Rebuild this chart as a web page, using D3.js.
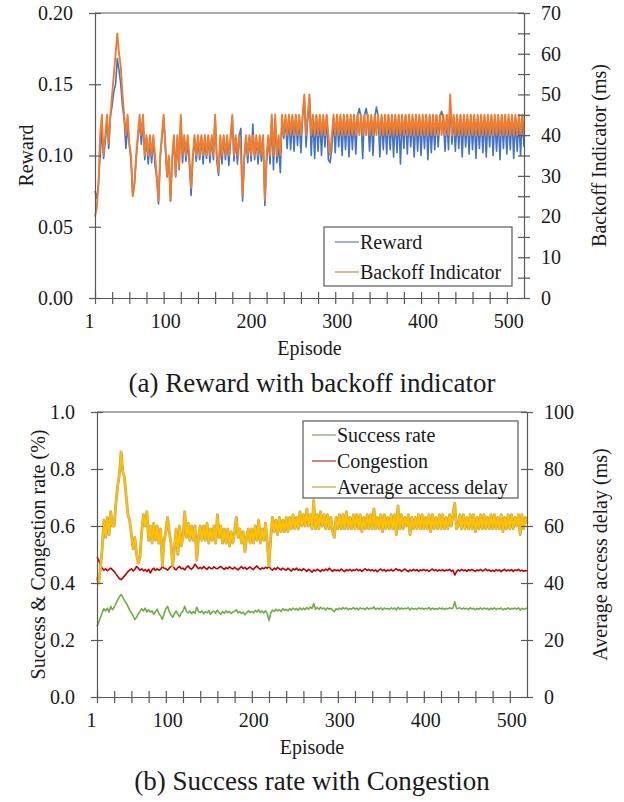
<!DOCTYPE html>
<html>
<head>
<meta charset="utf-8">
<script src="https://cdn.jsdelivr.net/npm/d3@7/dist/d3.min.js"></script>
<style>
  body { margin: 0; background: #fff; }
  svg { display: block; }
</style>
</head>
<body>
<div id="chart"></div>
<script>
// x categories: first plotted point is episode 20, one point every 2 episodes
const episodeStart = 20;
const episodeStep = 2;
const xTickValues = [20, 100, 200, 300, 400, 500];
const xTickLabels = ['1', '100', '200', '300', '400', '500'];

// (a) backoff indicator, ms (right axis)
const backoff = [
  20,22,28,40,45,35,40,45,38,45,
  50,55,60,65,60,57,50,45,40,45,
  38,35,25,28,35,40,45,40,45,35,
  40,35,40,35,40,35,30,24,35,40,
  45,38,30,35,24,35,40,30,40,32,
  45,35,40,35,40,35,27,35,40,35,
  40,35,40,35,40,35,40,35,40,35,
  45,35,31,40,35,40,35,40,35,40,
  45,35,40,35,40,35,25,35,40,35,
  40,35,40,35,40,35,40,35,40,24,
  35,40,35,45,35,45,35,40,35,45,
  40,45,40,45,40,45,40,45,40,45,
  40,45,50,40,45,50,40,45,40,45,
  40,45,40,45,40,45,40,35,40,45,
  40,45,40,45,40,45,40,45,40,45,
  40,45,40,45,40,45,40,45,40,45,
  40,45,40,45,40,45,40,45,40,45,
  40,45,40,45,40,45,40,45,40,45,
  40,45,40,45,40,45,40,45,40,45,
  40,45,40,45,40,45,40,45,40,45,
  40,45,40,45,40,45,40,50,40,45,
  40,45,40,45,40,45,40,45,40,45,
  40,45,40,45,40,45,40,45,40,45,
  40,45,40,45,40,45,40,45,40,45,
  40,45,40,45,40,45,40,45,40,45,
  40
];

// (a) reward (left axis)
const reward = [
  .075,.070,.080,.100,.118,.098,.110,.125,.105,.128,
  .135,.145,.150,.168,.160,.150,.135,.125,.105,.120,
  .108,.096,.072,.080,.098,.112,.124,.108,.125,.097,
  .112,.094,.110,.095,.112,.093,.084,.066,.098,.112,
  .126,.105,.085,.098,.068,.096,.112,.085,.112,.090,
  .126,.095,.112,.096,.110,.094,.072,.097,.112,.096,
  .112,.097,.113,.094,.112,.098,.113,.095,.112,.097,
  .127,.096,.086,.110,.094,.113,.097,.112,.093,.110,
  .126,.096,.112,.094,.114,.119,.068,.097,.112,.095,
  .113,.096,.122,.097,.112,.094,.110,.096,.112,.065,
  .096,.112,.094,.126,.090,.125,.095,.108,.088,.126,
  .112,.124,.105,.127,.104,.126,.103,.128,.107,.126,
  .102,.127,.140,.106,.126,.140,.100,.127,.098,.128,
  .103,.127,.100,.126,.106,.128,.097,.095,.105,.126,
  .102,.128,.106,.126,.100,.127,.104,.128,.099,.126,
  .104,.127,.101,.128,.133,.127,.098,.128,.133,.126,
  .103,.127,.100,.126,.134,.128,.099,.127,.104,.126,
  .101,.128,.104,.126,.099,.127,.102,.128,.094,.126,
  .105,.128,.101,.127,.106,.126,.099,.128,.103,.127,
  .100,.126,.105,.128,.097,.127,.102,.126,.104,.128,
  .106,.127,.131,.126,.103,.128,.104,.138,.108,.127,
  .103,.126,.105,.128,.099,.127,.106,.126,.101,.128,
  .104,.127,.098,.126,.105,.128,.102,.127,.099,.126,
  .106,.128,.100,.127,.103,.126,.097,.128,.105,.127,
  .101,.126,.104,.128,.098,.127,.103,.126,.100,.128,
  .106
];

// (b) average access delay, ms (right axis)
const accessDelay = [
  42,40,45,52,62,56,63,57,65,60,
  60,68,74,78,86,79,77,70,64,62,
  57,52,56,50,47,49,58,64,60,65,
  55,60,54,61,55,60,54,59,46,55,
  58,63,58,54,46,52,59,50,60,53,
  56,65,56,61,55,60,55,60,48,56,
  60,55,60,55,61,54,59,55,60,54,
  64,56,60,54,59,54,59,53,58,54,
  58,63,56,59,54,58,51,56,59,54,
  59,54,60,55,62,54,59,55,61,54,
  46,56,63,58,62,57,63,58,62,58,
  63,58,63,59,64,59,63,59,65,60,
  64,60,66,60,64,59,69,59,64,59,
  65,60,64,59,64,59,63,58,56,63,
  59,64,59,64,59,65,59,63,59,64,
  59,64,59,64,58,63,59,64,59,64,
  59,66,59,63,59,64,58,64,59,63,
  59,64,59,64,57,67,59,64,59,63,
  60,64,57,63,59,63,59,64,59,64,
  59,63,59,64,58,64,59,63,59,64,
  59,64,59,63,59,64,60,64,68,59,
  60,64,59,64,59,63,59,64,59,64,
  58,63,59,64,59,64,59,63,59,64,
  59,64,59,63,59,64,58,63,59,64,
  59,64,59,63,60,64,57,64,59,63,
  61
];

// (b) congestion rate (left axis)
const congestion = [
  .492,.480,.462,.452,.445,.450,.443,.448,.452,.446,
  .440,.432,.424,.415,.412,.418,.425,.432,.440,.445,
  .450,.442,.448,.458,.452,.445,.450,.443,.447,.440,
  .448,.435,.446,.452,.444,.450,.445,.448,.458,.452,
  .450,.445,.452,.458,.462,.450,.446,.454,.458,.450,
  .452,.446,.455,.460,.452,.448,.455,.466,.458,.450,
  .455,.450,.458,.452,.448,.456,.452,.450,.457,.452,
  .450,.455,.458,.452,.448,.454,.450,.457,.452,.449,
  .455,.450,.446,.452,.458,.450,.455,.448,.452,.456,
  .450,.447,.455,.460,.452,.448,.453,.450,.455,.452,
  .458,.450,.445,.452,.447,.455,.450,.446,.452,.448,
  .445,.452,.447,.442,.450,.446,.452,.445,.448,.443,
  .450,.446,.441,.448,.444,.438,.446,.442,.448,.445,
  .440,.447,.443,.449,.444,.452,.446,.441,.447,.443,
  .446,.442,.449,.444,.440,.447,.443,.448,.442,.446,
  .444,.449,.443,.447,.441,.446,.450,.444,.448,.443,
  .447,.442,.446,.440,.445,.449,.443,.447,.441,.446,
  .443,.448,.442,.446,.450,.444,.447,.441,.445,.449,
  .444,.440,.446,.442,.448,.443,.447,.441,.446,.444,
  .448,.443,.446,.441,.445,.449,.443,.447,.442,.446,
  .443,.447,.442,.446,.444,.448,.441,.445,.428,.440,
  .446,.442,.448,.443,.446,.441,.447,.443,.448,.444,
  .441,.446,.443,.448,.442,.445,.449,.443,.446,.441,
  .445,.441,.447,.443,.446,.440,.445,.448,.442,.446,
  .443,.447,.441,.446,.444,.448,.442,.445,.441,.444,
  .442
];

// (b) success rate (left axis)
const successRate = [
  .248,.262,.280,.295,.310,.302,.312,.298,.318,.306,
  .315,.328,.340,.352,.360,.350,.338,.330,.318,.305,
  .295,.285,.272,.280,.292,.300,.310,.302,.312,.298,
  .306,.298,.302,.290,.300,.308,.292,.285,.272,.292,
  .310,.318,.300,.288,.280,.292,.302,.290,.282,.295,
  .302,.318,.300,.295,.302,.292,.300,.294,.315,.300,
  .296,.302,.292,.300,.295,.303,.290,.298,.301,.294,
  .305,.296,.290,.300,.294,.302,.296,.300,.293,.298,
  .301,.306,.295,.300,.293,.298,.288,.296,.302,.297,
  .300,.295,.304,.298,.306,.296,.302,.295,.303,.292,
  .268,.294,.305,.300,.308,.302,.306,.300,.310,.304,
  .308,.302,.310,.305,.312,.306,.310,.304,.313,.306,
  .312,.306,.314,.308,.316,.310,.328,.308,.314,.307,
  .315,.309,.312,.305,.313,.308,.311,.304,.300,.310,
  .306,.312,.307,.314,.309,.313,.306,.311,.308,.314,
  .308,.312,.306,.313,.309,.311,.307,.314,.308,.312,
  .310,.316,.307,.312,.308,.313,.306,.312,.309,.311,
  .307,.313,.309,.312,.305,.315,.308,.312,.309,.311,
  .310,.313,.305,.312,.308,.311,.307,.313,.309,.312,
  .308,.311,.309,.314,.306,.312,.308,.311,.307,.313,
  .309,.312,.307,.311,.309,.313,.310,.312,.334,.310,
  .311,.313,.308,.312,.309,.311,.307,.313,.309,.311,
  .306,.311,.308,.313,.307,.312,.309,.311,.306,.312,
  .308,.313,.307,.311,.309,.312,.306,.310,.308,.313,
  .307,.311,.309,.312,.308,.313,.305,.311,.308,.310,
  .311
];

const colors = {
  text: '#1a1a1a',
  axis: '#595959',
  reward: '#4472C4',
  backoff: '#ED7D31',
  success: '#70AD47',
  congestion: '#C00000',
  delay: '#FFC000'
};
const font = '"Liberation Serif", "Times New Roman", serif';

const svg = d3.select('#chart').append('svg')
  .attr('width', 624)
  .attr('height', 802)
  .style('font-family', font);

const episodeOf = i => episodeStart + i * episodeStep;

function drawPanel(cfg) {
  const g = svg.append('g');
  const x = d3.scaleLinear().domain([20, 520]).range([cfg.left, cfg.right]);
  const yL = d3.scaleLinear().domain(cfg.leftDomain).range([cfg.bottom, cfg.top]);
  const yR = d3.scaleLinear().domain(cfg.rightDomain).range([cfg.bottom, cfg.top]);

  // plot area top border
  g.append('line')
    .attr('x1', cfg.left).attr('x2', cfg.right)
    .attr('y1', cfg.top).attr('y2', cfg.top)
    .attr('stroke', colors.axis).attr('stroke-width', 1.2);

  // series (optional soft grey edge underneath, like the Excel export)
  cfg.series.forEach(s => {
    const y = s.axis === 'right' ? yR : yL;
    const line = d3.line()
      .x((d, i) => x(episodeOf(i)))
      .y(d => y(d));
    if (s.edge) {
      g.append('path')
        .datum(s.values)
        .attr('fill', 'none')
        .attr('stroke', s.edge)
        .attr('stroke-width', s.width + 1)
        .attr('stroke-linejoin', 'round')
        .attr('d', line);
    }
    g.append('path')
      .datum(s.values)
      .attr('fill', 'none')
      .attr('stroke', s.color)
      .attr('stroke-width', s.width)
      .attr('stroke-linejoin', 'round')
      .attr('d', line);
  });

  // left axis
  const leftAxis = g.append('g')
    .attr('transform', `translate(${cfg.left},0)`)
    .call(d3.axisLeft(yL).tickValues(cfg.leftTicks).tickFormat(d3.format(cfg.leftFormat)).tickSizeOuter(0));
  leftAxis.selectAll('.tick line').attr('x1', -6).attr('x2', 6);
  leftAxis.selectAll('.tick text').attr('x', -22);

  // right axis
  const rightAxis = g.append('g')
    .attr('transform', `translate(${cfg.right},0)`)
    .call(d3.axisRight(yR).tickValues(cfg.rightTicks)
      .tickFormat(d => cfg.rightLabels.includes(d) ? d : '').tickSizeOuter(0));
  rightAxis.selectAll('.tick line').attr('x1', -6).attr('x2', 6);
  rightAxis.selectAll('.tick text').attr('x', 17);

  // bottom axis
  const bottomAxis = g.append('g')
    .attr('transform', `translate(0,${cfg.bottom})`)
    .call(d3.axisBottom(x).tickValues(d3.range(20, 520, 20))
      .tickFormat(d => {
        const k = xTickValues.indexOf(d);
        return k >= 0 ? xTickLabels[k] : '';
      }).tickSizeOuter(0));
  bottomAxis.selectAll('.tick line').attr('y1', -6).attr('y2', 6);
  bottomAxis.selectAll('.tick text').attr('y', 16)
    .attr('dx', d => d === 20 ? -6 : 1.5);

  [leftAxis, rightAxis, bottomAxis].forEach(a => {
    a.selectAll('path.domain').attr('stroke', colors.axis).attr('stroke-width', 1.2);
    a.selectAll('.tick line').attr('stroke', colors.axis).attr('stroke-width', 1.2);
    a.selectAll('.tick text')
      .attr('fill', colors.text)
      .style('font-family', font)
      .style('font-size', '20px');
  });

  // axis titles
  g.append('text')
    .attr('transform', `translate(${cfg.leftTitleX},${(cfg.top + cfg.bottom) / 2}) rotate(-90)`)
    .attr('text-anchor', 'middle').attr('dominant-baseline', 'central')
    .attr('fill', colors.text).style('font-size', '20px')
    .text(cfg.leftTitle);
  g.append('text')
    .attr('transform', `translate(${cfg.rightTitleX},${(cfg.top + cfg.bottom) / 2}) rotate(-90)`)
    .attr('text-anchor', 'middle').attr('dominant-baseline', 'central')
    .attr('fill', colors.text).style('font-size', '20px')
    .text(cfg.rightTitle);
  g.append('text')
    .attr('x', (cfg.left + cfg.right) / 2).attr('y', cfg.bottom + 57)
    .attr('text-anchor', 'middle')
    .attr('fill', colors.text).style('font-size', '20px')
    .text('Episode');

  // caption
  g.append('text')
    .attr('x', 312).attr('y', cfg.captionY)
    .attr('text-anchor', 'middle')
    .attr('fill', colors.text).style('font-size', '27px')
    .text(cfg.caption);

  // legend
  const lg = g.append('g');
  lg.append('rect')
    .attr('x', cfg.legend.x).attr('y', cfg.legend.y)
    .attr('width', cfg.legend.w).attr('height', cfg.legend.h)
    .attr('fill', '#fff').attr('stroke', colors.axis).attr('stroke-width', 1.2);
  cfg.series.forEach((s, i) => {
    const cy = cfg.legend.y + cfg.legend.first + i * cfg.legend.gap;
    lg.append('line')
      .attr('x1', cfg.legend.x + cfg.legend.lineX).attr('x2', cfg.legend.x + cfg.legend.lineX + 24)
      .attr('y1', cy).attr('y2', cy)
      .attr('stroke', s.legendColor || s.color).attr('stroke-width', 1.3);
    lg.append('text')
      .attr('x', cfg.legend.x + cfg.legend.lineX + 25).attr('y', cy)
      .attr('dominant-baseline', 'central')
      .attr('fill', colors.text).style('font-size', '20px')
      .text(s.name);
  });
}

drawPanel({
  left: 95, right: 524, top: 13, bottom: 298,
  leftDomain: [0, 0.2], leftTicks: [0, 0.05, 0.1, 0.15, 0.2], leftFormat: '.2f',
  rightDomain: [0, 70], rightTicks: d3.range(0, 71, 5), rightLabels: [0, 10, 20, 30, 40, 50, 60, 70],
  leftTitle: 'Reward', leftTitleX: 26,
  rightTitle: 'Backoff Indicator (ms)', rightTitleX: 599,
  caption: '(a) Reward with backoff indicator', captionY: 392,
  legend: { x: 324, y: 227, w: 188, h: 59, first: 15, gap: 30, lineX: 11 },
  series: [
    { name: 'Reward', values: reward, axis: 'left', color: colors.reward, width: 1.6, legendColor: '#6f86b8' },
    { name: 'Backoff Indicator', values: backoff, axis: 'right', color: colors.backoff, width: 1.9, legendColor: '#d98a5a' }
  ]
});

drawPanel({
  left: 97, right: 527, top: 412, bottom: 697,
  leftDomain: [0, 1], leftTicks: [0, 0.2, 0.4, 0.6, 0.8, 1], leftFormat: '.1f',
  rightDomain: [0, 100], rightTicks: [0, 20, 40, 60, 80, 100], rightLabels: [0, 20, 40, 60, 80, 100],
  leftTitle: 'Success & Congestion rate (%)', leftTitleX: 38,
  rightTitle: 'Average access delay (ms)', rightTitleX: 600,
  caption: '(b) Success rate with Congestion', captionY: 790,
  legend: { x: 303, y: 421, w: 215, h: 77, first: 14, gap: 26, lineX: 9 },
  series: [
    { name: 'Success rate', values: successRate, axis: 'left', color: colors.success, width: 1.6, legendColor: '#7fa86a' },
    { name: 'Congestion', values: congestion, axis: 'left', color: colors.congestion, width: 1.6, legendColor: '#b84040' },
    { name: 'Average access delay', values: accessDelay, axis: 'right', color: colors.delay, width: 1.9, edge: '#b5a57a', legendColor: '#d4aa3a' }
  ]
});
</script>
</body>
</html>
